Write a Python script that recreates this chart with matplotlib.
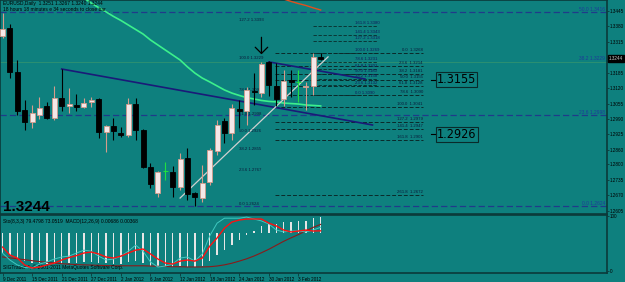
import matplotlib
matplotlib.use("Agg")
import matplotlib.pyplot as plt
from matplotlib.patches import Rectangle
import matplotlib.transforms as mtransforms

# ---------------- data ----------------
date_ticks = [0, 4, 8, 12, 16, 20, 24, 28, 32, 36, 40]
date_labels = ["9 Dec 2011", "15 Dec 2011", "21 Dec 2011", "27 Dec 2011", "2 Jan 2012",
               "6 Jan 2012", "12 Jan 2012", "18 Jan 2012", "24 Jan 2012", "30 Jan 2012", "3 Feb 2012"]

opens = [1.3339, 1.3372, 1.3188, 1.3028, 1.2978, 1.3007, 1.3045, 1.2994, 1.3078, 1.3045,
         1.3049, 1.3041, 1.3062, 1.3074, 1.2935, 1.2961, 1.2931, 1.2923, 1.3053, 1.2944,
         1.2788, 1.2679, 1.2772, 1.2767, 1.2704, 1.2826, 1.2679, 1.2658, 1.2725, 1.2856,
         1.2982, 1.2932, 1.3032, 1.3024, 1.3108, 1.3099, 1.3229, 1.3129, 1.3074, 1.3154,
         1.3146, 1.3125, 1.3129, 1.3251]
highs = [1.3435, 1.3389, 1.3238, 1.3070, 1.3049, 1.3083, 1.3062, 1.3129, 1.3200, 1.3120,
         1.3095, 1.3078, 1.3083, 1.3078, 1.2965, 1.2994, 1.2957, 1.3078, 1.3078, 1.2948,
         1.2805, 1.2771, 1.2810, 1.2793, 1.2847, 1.2868, 1.2683, 1.2797, 1.2868, 1.2986,
         1.2994, 1.3053, 1.3070, 1.3125, 1.3183, 1.3229, 1.3233, 1.3225, 1.3196, 1.3196,
         1.3196, 1.3146, 1.3268, 1.3267]
lows = [1.3330, 1.3162, 1.3007, 1.2944, 1.2952, 1.2990, 1.2990, 1.2986, 1.3024, 1.3015,
        1.3024, 1.3036, 1.3041, 1.2910, 1.2852, 1.2902, 1.2915, 1.2915, 1.2902, 1.2784,
        1.2700, 1.2662, 1.2734, 1.2662, 1.2692, 1.2650, 1.2624, 1.2641, 1.2713, 1.2839,
        1.2890, 1.2902, 1.2952, 1.2965, 1.3049, 1.3083, 1.3087, 1.3045, 1.3045, 1.3083,
        1.3062, 1.3028, 1.3091, 1.3240]
closes = [1.3368, 1.3188, 1.3024, 1.2978, 1.3015, 1.3036, 1.2994, 1.3078, 1.3045, 1.3053,
          1.3041, 1.3057, 1.3070, 1.2935, 1.2961, 1.2940, 1.2923, 1.3053, 1.2944, 1.2788,
          1.2717, 1.2767, 1.2772, 1.2704, 1.2822, 1.2675, 1.2662, 1.2721, 1.2860, 1.2965,
          1.2932, 1.3036, 1.3024, 1.3112, 1.3104, 1.3221, 1.3133, 1.3074, 1.3150, 1.3146,
          1.3146, 1.3129, 1.3251, 1.3244]

ma_start = 10
ma_values = [1.3515, 1.3498, 1.3477, 1.3458, 1.3440, 1.3421, 1.3404, 1.3385, 1.3366, 1.3347,
             1.3322, 1.3301, 1.3280, 1.3259, 1.3238, 1.3209, 1.3183, 1.3162, 1.3146, 1.3129,
             1.3112, 1.3099, 1.3089, 1.3080, 1.3074, 1.3068, 1.3064, 1.3062, 1.3057, 1.3055,
             1.3053, 1.3049, 1.3047, 1.3045]

red_ma_start = 38
red_ma_values = [1.3494, 1.3484, 1.3475, 1.3467, 1.3457, 1.3448]

trend1_bars = [8, 50]
trend1_prices = [1.3200, 1.2965]
trend2_bars = [36, 49]
trend2_prices = [1.3230, 1.3158]
trend3_bars = [24, 44]
trend3_prices = [1.2658, 1.3251]

big_fib_prices = [1.3440, 1.3007, 1.2624]
big_fib_labels = ["50.0 1.3416", "23.6 1.2998", "0.0 1.2624"]
big_fib_label_prices = [1.3452, 1.3019, 1.2636]
mid_fib_label = "38.2 1.3229"

fibA_labels = ["127.2 1.3393", "100.0 1.3229", "78.6 1.3099", "61.8 1.2998",
               "50.0 1.2926", "38.2 1.2855", "23.6 1.2767", "0.0 1.2624"]
fibA_prices = [1.3406, 1.3248, 1.3112, 1.3011, 1.2940, 1.2864, 1.2776, 1.2632]

fibB_levels = ["0.0", "23.6", "38.2", "50.0", "61.8", "78.6", "100.0", "127.2", "141.4", "161.8", "261.8"]
fibB_prices = [1.3268, 1.3214, 1.3181, 1.3155, 1.3128, 1.3090, 1.3041, 1.2979, 1.2947, 1.2901, 1.2672]

fibC_levels = ["161.8", "141.4", "127.2", "100.0", "78.6", "61.8", "50.0", "38.2", "23.6", "0.0"]
fibC_prices = [1.3380, 1.3343, 1.3318, 1.3269, 1.3231, 1.3201, 1.3180, 1.3158, 1.3132, 1.3090]

price_ticks = [1.3445, 1.3380, 1.3315, 1.3185, 1.3120, 1.3055, 1.2990, 1.2925,
               1.2860, 1.2800, 1.2735, 1.2670, 1.2605]
bid = 1.3244
box_labels = [1.3155, 1.2926]

stoch_main = [32.7, 20.0, 11.0, 6.4, 5.5, 12.7, 16.4, 21.8, 25.5, 27.0,
              32.7, 38.0, 36.0, 27.0, 20.0, 21.8, 27.0, 36.0, 47.0, 36.0,
              16.4, 7.3, 9.0, 12.7, 23.6, 25.5, 18.0, 31.0, 63.6, 87.0,
              96.0, 96.0, 96.0, 98.0, 94.5, 91.0, 85.5, 74.5, 71.0, 72.7,
              72.7, 71.0, 74.5, 79.4798]
stoch_signal = [43.6, 29.0, 23.6, 11.0, 5.5, 7.3, 11.0, 14.5, 20.0, 24.5,
                28.0, 32.7, 34.5, 31.0, 25.5, 23.6, 27.0, 32.7, 38.0, 40.0,
                31.0, 21.8, 14.5, 12.7, 18.0, 20.0, 18.0, 23.6, 45.0, 60.0,
                78.0, 89.0, 92.7, 94.5, 94.5, 94.5, 87.0, 82.0, 74.5, 71.0,
                72.7, 74.5, 72.7, 73.0519]
macd_main = [-0.0085, -0.0093, -0.0110, -0.0122, -0.0128, -0.0131, -0.0135, -0.0132, -0.0132, -0.0130,
             -0.0128, -0.0126, -0.0123, -0.0128, -0.0130, -0.0132, -0.0133, -0.0123, -0.0122, -0.0130,
             -0.0140, -0.0143, -0.0144, -0.0146, -0.0140, -0.0145, -0.0148, -0.0141, -0.0122, -0.0095,
             -0.0075, -0.0050, -0.0030, -0.0010, 0.0008, 0.0030, 0.0038, 0.0040, 0.0045, 0.0049,
             0.0051, 0.0053, 0.0063, 0.00686]
macd_signal = [-0.0103, -0.0107, -0.0111, -0.0115, -0.0119, -0.0123, -0.0126, -0.0129, -0.0132, -0.0134,
               -0.0136, -0.0137, -0.0138, -0.0139, -0.0140, -0.0141, -0.0141, -0.0141, -0.0141, -0.0141,
               -0.0142, -0.0143, -0.0144, -0.0145, -0.0145, -0.0146, -0.0146, -0.0146, -0.0145, -0.0142,
               -0.0137, -0.0130, -0.0121, -0.0111, -0.0099, -0.0085, -0.0070, -0.0053, -0.0036, -0.0021,
               -0.0007, 0.0009, 0.0024, 0.00368]

# ---------------- style ----------------
BG = "#0e807e"
DARK = "#0b3a3a"
BULL_FC = "#f4e8e8"
BULL_EC = "#d59c8c"
SMALL = "Liberation Sans"
plt.rcParams["font.family"] = [SMALL, "DejaVu Sans"]
FS = 3.5
TFS = 3.3

W, H = 625.0, 282.0
XR = 607.0
XMIN, XMAX = -0.338, 81.7
PTOP, PBOT = 1.3490, 1.2591

fig = plt.figure(figsize=(6.25, 2.82), dpi=100)
fig.patch.set_facecolor(BG)

ax = fig.add_axes([0, 1 - 214 / H, XR / W, 214 / H])
axi = fig.add_axes([0, 1 - 273 / H, XR / W, 58 / H])
axs = axi.twinx()

for a in (ax, axi):
    a.set_facecolor(BG)
    a.set_xlim(XMIN, XMAX)
    for s in a.spines.values():
        s.set_color(DARK)
        s.set_linewidth(1.2)
axs.set_xlim(XMIN, XMAX)
axs.patch.set_visible(False)
for s in axs.spines.values():
    s.set_visible(False)

ax.set_ylim(PBOT, PTOP)

# ---- full width dashed fib lines
for p in big_fib_prices:
    ax.axhline(p, color="#203a8a", lw=0.9, dashes=[5, 2.5], zorder=1)
ax.axhline(1.3229, color="#3f9a6a", lw=0.6, alpha=0.7, zorder=1)
yt = mtransforms.blended_transform_factory(ax.transAxes, ax.transData)
for lab, p in zip(big_fib_labels, big_fib_label_prices):
    ax.text(0.997, p, lab, transform=yt, ha="right", va="center", fontsize=FS, color="#1e3a9a", zorder=5)
ax.text(0.997, 1.3246, mid_fib_label, transform=yt, ha="right", va="center", fontsize=FS, color="#1e3a9a", zorder=5)

# ---- fib B (black dashed, right-aligned labels)
for lev, p in zip(fibB_levels, fibB_prices):
    ax.plot([36.8, 56.8], [p, p], color="#0a2a2a", lw=0.7, dashes=[4, 2], zorder=2)
    ax.text(56.8, p + 0.0004, f"{lev}  {p:.4f}", ha="right", va="bottom", fontsize=3.1, color="#0a1a3a", zorder=5)

# ---- fib C
for lev, p in zip(fibC_levels, fibC_prices):
    ax.plot([42, 50.6], [p, p], color="#0a2a2a", lw=0.6, dashes=[4, 2], zorder=2)
    ax.text(47.6, p + 0.0003, f"{lev} {p:.4f}", ha="left", va="bottom", fontsize=3.1, color="#101a5a", zorder=5)

# ---- fib A labels
for lab, p in zip(fibA_labels, fibA_prices):
    ax.text(32.0, p, lab, ha="left", va="center", fontsize=3.1, color="#0a1a3a", zorder=5)

# ---- moving averages
ax.plot(range(ma_start, ma_start + len(ma_values)), ma_values, color="#3cf08c", lw=1.2, zorder=3)
ax.plot(range(red_ma_start, red_ma_start + len(red_ma_values)), red_ma_values, color="#e0501e", lw=1.0, zorder=3)

# ---- trendlines
ax.plot(trend1_bars, trend1_prices, color="#1a1a78", lw=1.2, zorder=4)
ax.plot(trend2_bars, trend2_prices, color="#1a1a78", lw=1.2, zorder=4)
ax.plot(trend3_bars, trend3_prices, color="#d0d0d0", lw=0.9, zorder=4)

# ---- candles
bw = 0.68
for i, (o, h, l, c) in enumerate(zip(opens, highs, lows, closes)):
    if c > o:
        ax.vlines(i, l, h, color=BULL_EC, lw=0.8, zorder=5)
        ax.add_patch(Rectangle((i - bw / 2, o), bw, c - o, fc=BULL_FC, ec=BULL_EC, lw=0.6, zorder=6))
    elif c < o:
        ax.vlines(i, l, h, color="black", lw=0.8, zorder=5)
        ax.add_patch(Rectangle((i - bw / 2, c), bw, o - c, fc="black", ec="black", lw=0.6, zorder=6))
    else:
        ax.vlines(i, l, h, color="#20e040", lw=0.8, zorder=5)
        ax.hlines(o, i - bw / 2, i + bw / 2, color="#20e040", lw=0.8, zorder=6)

# ---- arrow (open chevron head)
ax.annotate("", xy=(35, 1.3250), xytext=(35, 1.3345),
            arrowprops=dict(arrowstyle="->,head_width=0.45,head_length=0.45", color="black", lw=0.9), zorder=7)

# ---- boxed price labels
for p in box_labels:
    ax.plot([57.9, 58.6], [p, p], color="black", lw=0.8, zorder=7)
    ax.text(58.75, p, f"{p:.4f}", ha="left", va="center", fontsize=9, color="black", zorder=7,
            family="DejaVu Sans", fontstretch="condensed",
            bbox=dict(boxstyle="square,pad=0.08", fc="none", ec="#0a2a2a", lw=0.8))

ax.text(0.005, 0.012, "1.3244", transform=ax.transAxes, ha="left", va="baseline",
        fontsize=11, fontweight="bold", color="black", family="Liberation Sans", zorder=7)

ax.text(0.005, 0.995, "EURUSD,Daily  1.3251 1.3267 1.3240 1.3244", transform=ax.transAxes,
        ha="left", va="top", fontsize=FS, color="black", zorder=7)
ax.text(0.005, 0.967, "18 hours 18 minutes e 34 seconds to close bar", transform=ax.transAxes,
        ha="left", va="top", fontsize=FS, color="black", zorder=7)

# ---- price axis
ax.yaxis.tick_right()
ax.set_yticks(price_ticks)
ax.set_yticklabels([f"{t:.4f}" for t in price_ticks])
ax.tick_params(axis="y", labelsize=TFS, colors=DARK, labelcolor="black", length=1.5, width=0.6, pad=0.5)
ax.set_xticks([])
ax.text(1.003, bid, f"{bid:.4f}", transform=yt, ha="left", va="center", fontsize=TFS,
        color="#c8c8c8", zorder=8, bbox=dict(boxstyle="square,pad=0.15", fc="black", ec="black"), clip_on=False)

# ---- indicator window
axi.set_ylim(-0.0172, 0.0077)
axs.set_ylim(-3.6, 101.8)
axi.bar(range(len(macd_main)), macd_main, width=0.2, color="#e6e6e6", zorder=2)
axi.plot(range(len(macd_signal)), macd_signal, color="#8a1a1a", lw=0.8, zorder=3)
axs.plot(range(len(stoch_main)), stoch_main, color="#40c8c0", lw=0.7, zorder=3)
axs.plot(range(len(stoch_signal)), stoch_signal, color="#ff1010", lw=1.0, zorder=4)
axi.set_yticks([])
axs.yaxis.tick_right()
axs.set_yticks([0, 100])
axs.set_yticklabels(["0", "100"])
axs.tick_params(axis="y", labelsize=TFS, colors=DARK, labelcolor="black", length=1.5, width=0.6, pad=0.5)

axi.text(0.005, 0.93, "Sto(8,3,3) 79.4798 73.0519  MACD(12,26,9) 0.00686 0.00368", transform=axi.transAxes,
         ha="left", va="top", fontsize=FS, color="black", zorder=7)
axi.text(0.005, 0.05, "SIGTrader 4, \u00a9 2001-2011 MetaQuotes Software Corp.", transform=axi.transAxes,
         ha="left", va="bottom", fontsize=FS, color="black", zorder=7)

axi.set_xticks(date_ticks)
axi.set_xticklabels(date_labels)
for t in axi.get_xticklabels():
    t.set_horizontalalignment("left")
axi.tick_params(axis="x", labelsize=3.3, colors=DARK, labelcolor="black", length=2, width=0.6, pad=1)

fig.savefig("out.png", dpi=100, facecolor=BG)
